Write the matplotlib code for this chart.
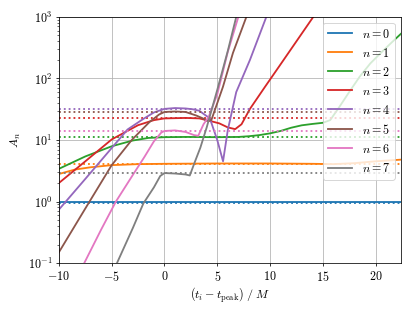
import matplotlib
matplotlib.use("Agg")
import matplotlib.pyplot as plt
import numpy as np

plt.rcParams['font.family'] = 'serif'
plt.rcParams['font.serif'] = ['cmr10']
plt.rcParams['mathtext.fontset'] = 'cm'
plt.rcParams['axes.formatter.use_mathtext'] = True
plt.rcParams['font.size'] = 12.5

# amplitudes, one list pair per overtone
t0 = [-10, 22.5]
a0 = [0.98, 0.98]

t1 = [-10, -8.5, -7, -5, -2.5, 0, 5, 10, 14, 16, 18, 20, 22.5]
a1 = [2.8, 3.3, 3.6, 3.9, 4.05, 4.1, 4.15, 4.15, 4.1, 4.05, 4.2, 4.5, 4.8]

t2 = [-10, -7.5, -5, -3, -1.5, 0, 2, 5, 7, 8, 9, 10, 11, 12, 13, 14, 15, 15.7,
      16.5, 17.5, 18.5, 19.5, 20.5, 21.5, 22.5]
a2 = [3.4, 5.4, 7.9, 9.8, 10.8, 11.1, 11.2, 11.1, 11.2, 11.5, 12.0, 12.8, 14, 15.8,
      17.3, 18.2, 19, 21, 33, 60, 107, 175, 260, 380, 550]

t3 = [-10, -7.5, -5, -2.5, -1, 0, 2, 3.3, 4.5, 5.2, 6, 6.7, 7.3, 8.1, 9.5, 10.9,
      12.5, 14.1, 14.5]
a3 = [2.0, 4.5, 10.2, 17.4, 21, 22.4, 22.8, 22.4, 20, 18.6, 16, 15.0, 18, 32,
      72, 160, 400, 1000, 1300]

t4 = [-10, -7.5, -5, -3.5, -2, -1, 0, 1, 2, 2.7, 3.3, 4.3, 5.0, 5.55, 6.0, 6.8,
      8.1, 9.65, 10]
a4 = [0.74, 2.33, 7.4, 14.8, 22, 28, 32, 33, 32.5, 31.5, 29.8, 22.4, 10, 4.5,
      14.5, 60, 200, 1000, 1300]

t5 = [-10, -7.5, -5, -3.1, -1.4, -0.5, 0, 1, 2, 3, 3.65, 4.0, 4.44, 5.54, 6.49,
      7.76, 8]
a5 = [0.15, 0.77, 3.9, 10, 19.7, 26, 28.5, 29, 28.5, 25, 22.4, 20.4, 21, 73, 260,
      1000, 1300]

t6 = [-7.8, -7.6, -6, -4.6, -3, -1.9, -1, -0.3, 0, 1, 2, 2.8, 3.2, 3.7, 4.2, 5, 6,
      7, 7.3]
a6 = [0.085, 0.1, 0.35, 1.0, 2.7, 5.3, 9.5, 13.2, 14, 14.3, 13.5, 12, 11.7, 18,
      24, 55, 270, 1000, 1400]

t7 = [-4.7, -4.5, -3, -2, -1, -0.4, 0, 1, 2, 2.4, 2.9, 3.4, 4, 5, 6, 6.8, 7.1]
a7 = [0.08, 0.1, 0.37, 0.93, 1.7, 2.6, 2.9, 2.85, 2.75, 2.65, 4.5, 7.5, 16, 65,
      280, 1000, 1400]

# late-time reference amplitudes (dotted)
ref_amp = [0.96, 4.1, 11.1, 22.4, 32, 28.5, 14, 2.9]

times = [t0, t1, t2, t3, t4, t5, t6, t7]
amps = [a0, a1, a2, a3, a4, a5, a6, a7]

fig = plt.figure(figsize=(6, 4.5), dpi=415 / 6)
ax = fig.add_axes([0.142, 0.154, 0.824, 0.791])

for n in range(8):
    c = 'C%d' % n
    ax.plot(times[n], amps[n], color=c, lw=1.9, label=r'$n = %d$' % n)
    ax.axhline(ref_amp[n], color=c, ls=':', lw=1.9)

ax.set_yscale('log')
ax.set_xlim(-10, 22.4)
ax.set_ylim(1e-1, 1e3)
ax.grid(True, which='major')
ax.set_xlabel(r'$(t_i - t_{\rm peak})\ /\ M$', labelpad=1)
ax.set_ylabel(r'$A_n$', labelpad=5)
ax.legend(loc='upper right')

fig.savefig('out.png', dpi=415 / 6)
